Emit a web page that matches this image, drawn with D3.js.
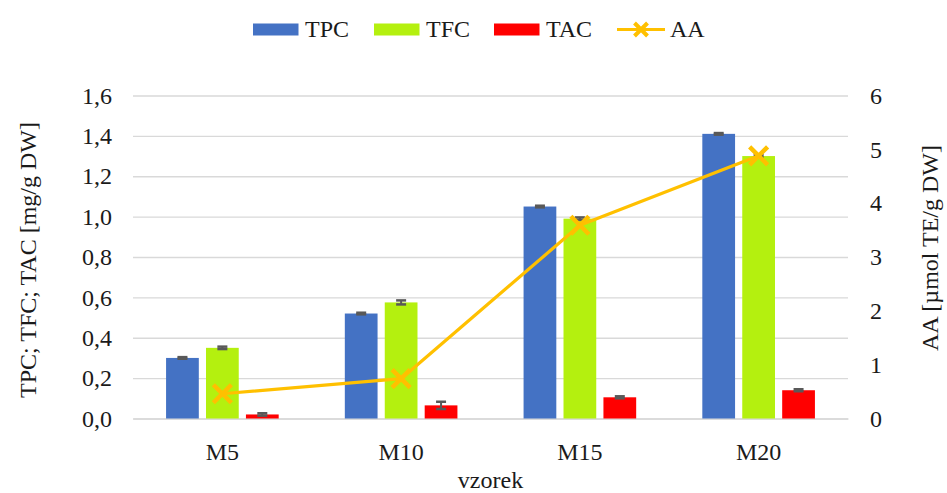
<!DOCTYPE html>
<html>
<head>
<meta charset="utf-8">
<script src="https://cdn.jsdelivr.net/npm/d3@7"></script>
<style>
  html, body { margin: 0; padding: 0; background: #fff; }
  svg { display: block; font-family: "Liberation Serif", "Times New Roman", serif; }
</style>
</head>
<body>
<svg id="chart" width="947" height="493"></svg>
<script>
// Samples and measured values
const categories = ["M5", "M10", "M15", "M20"];
const seriesNames = ["TPC", "TFC", "TAC"];
const tpc = [0.30, 0.52, 1.05, 1.41];
const tfc = [0.35, 0.575, 0.99, 1.30];
const tac = [0.02, 0.065, 0.105, 0.14];
const tpcErr = [0.004, 0.004, 0.004, 0.004];
const tfcErr = [0.006, 0.010, 0.006, 0.006];
const tacErr = [0.006, 0.018, 0.005, 0.005];
const aa = [0.46, 0.74, 3.59, 4.88];
const leftTicks = [0, 0.2, 0.4, 0.6, 0.8, 1.0, 1.2, 1.4, 1.6];
const rightTicks = [0, 1, 2, 3, 4, 5, 6];

const colors = { TPC: "#4472C4", TFC: "#B4F00F", TAC: "#FF0000", AA: "#FFC000" };
const barValues = { TPC: tpc, TFC: tfc, TAC: tac };
const barErrors = { TPC: tpcErr, TFC: tfcErr, TAC: tacErr };

const svg = d3.select("#chart");
const plot = { left: 133, right: 848, top: 95.5, bottom: 418.5 };
const fontSize = 24;
const textColor = "#1a1a1a";

const locale = d3.formatLocale({ decimal: ",", thousands: " ", grouping: [3], currency: ["", ""] });
const fmt1 = locale.format(".1f");

const x0 = d3.scaleBand().domain(categories).range([plot.left, plot.right])
  .paddingInner(0.37).paddingOuter(0.185);
const x1 = d3.scaleBand().domain(seriesNames).range([0, x0.bandwidth()])
  .paddingInner(0.18).paddingOuter(0);
const yL = d3.scaleLinear().domain([0, 1.6]).range([plot.bottom, plot.top]);
const yR = d3.scaleLinear().domain([0, 6]).range([plot.bottom, plot.top]);

// Gridlines and left axis
const gL = svg.append("g").attr("transform", `translate(${plot.left},0)`)
  .call(d3.axisLeft(yL).tickValues(leftTicks).tickFormat(fmt1)
    .tickSize(-(plot.right - plot.left)).tickPadding(21));
gL.select(".domain").remove();
gL.selectAll(".tick line").attr("stroke", "#d9d9d9").attr("stroke-width", 1.3);
gL.selectAll(".tick text").attr("font-size", fontSize).attr("fill", textColor)
  .attr("font-family", "Liberation Serif");

// Right axis (labels only)
const gR = svg.append("g").attr("transform", `translate(${plot.right},0)`)
  .call(d3.axisRight(yR).tickValues(rightTicks).tickFormat(d3.format("d"))
    .tickSize(0).tickPadding(22));
gR.select(".domain").remove();
gR.selectAll(".tick text").attr("font-size", fontSize).attr("fill", textColor)
  .attr("font-family", "Liberation Serif");

// Category axis
const gX = svg.append("g").attr("transform", `translate(0,${plot.bottom})`)
  .call(d3.axisBottom(x0).tickSize(0).tickPadding(24));
gX.select(".domain").attr("stroke", "#d9d9d9").attr("stroke-width", 1.5);
gX.selectAll(".tick text").attr("font-size", fontSize).attr("fill", textColor)
  .attr("font-family", "Liberation Serif");

// Bars
const groups = svg.append("g").selectAll("g").data(categories).join("g")
  .attr("transform", d => `translate(${x0(d)},0)`);
seriesNames.forEach(s => {
  groups.append("rect")
    .attr("x", x1(s))
    .attr("width", x1.bandwidth())
    .attr("y", (d, i) => yL(barValues[s][i]))
    .attr("height", (d, i) => plot.bottom - yL(barValues[s][i]))
    .attr("fill", colors[s]);
});

// Error bars
const cap = 5;
seriesNames.forEach(s => {
  groups.each(function (d, i) {
    const g = d3.select(this);
    const cx = x1(s) + x1.bandwidth() / 2;
    const v = barValues[s][i], e = barErrors[s][i];
    const yTop = yL(v + e), yBot = yL(v - e);
    g.append("line").attr("x1", cx).attr("x2", cx).attr("y1", yTop).attr("y2", yBot)
      .attr("stroke", "#595959").attr("stroke-width", 2);
    [yTop, yBot].forEach(yy => g.append("line")
      .attr("x1", cx - cap).attr("x2", cx + cap).attr("y1", yy).attr("y2", yy)
      .attr("stroke", "#595959").attr("stroke-width", 2.5));
  });
});

// AA line with cross markers
const cxOf = c => x0(c) + x0.bandwidth() / 2;
const line = d3.line().x((d, i) => cxOf(categories[i])).y(d => yR(d));
svg.append("path").datum(aa).attr("d", line)
  .attr("fill", "none").attr("stroke", colors.AA).attr("stroke-width", 3.2)
  .attr("stroke-linejoin", "round");
const m = 9;
svg.append("g").selectAll("path").data(aa).join("path")
  .attr("d", (d, i) => {
    const x = cxOf(categories[i]), y = yR(d);
    return `M${x - m},${y - m}L${x + m},${y + m}M${x - m},${y + m}L${x + m},${y - m}`;
  })
  .attr("stroke", colors.AA).attr("stroke-width", 4.5).attr("fill", "none");

// Axis titles
svg.append("text").attr("transform", "translate(36,260) rotate(-90)")
  .attr("text-anchor", "middle").attr("font-size", fontSize).attr("fill", textColor)
  .text("TPC; TFC; TAC [mg/g DW]");
svg.append("text").attr("transform", "translate(938,248) rotate(-90)")
  .attr("text-anchor", "middle").attr("font-size", fontSize).attr("fill", textColor)
  .text("AA [µmol TE/g DW]");
svg.append("text").attr("x", (plot.left + plot.right) / 2).attr("y", 487.5)
  .attr("text-anchor", "middle").attr("font-size", fontSize).attr("fill", textColor)
  .text("vzorek");

// Legend
const legendItems = [
  { name: "TPC", x: 253, type: "rect" },
  { name: "TFC", x: 374, type: "rect" },
  { name: "TAC", x: 494, type: "rect" },
  { name: "AA", x: 617, type: "line" }
];
const lg = svg.append("g");
legendItems.forEach(it => {
  if (it.type === "rect") {
    lg.append("rect").attr("x", it.x).attr("y", 23.5).attr("width", 45.5).attr("height", 12)
      .attr("fill", colors[it.name]);
  } else {
    lg.append("line").attr("x1", it.x).attr("x2", it.x + 48).attr("y1", 29.5).attr("y2", 29.5)
      .attr("stroke", colors.AA).attr("stroke-width", 3.2);
    const cx = it.x + 24, cy = 29.5, r = 6.5;
    lg.append("path")
      .attr("d", `M${cx - r},${cy - r}L${cx + r},${cy + r}M${cx - r},${cy + r}L${cx + r},${cy - r}`)
      .attr("stroke", colors.AA).attr("stroke-width", 4).attr("fill", "none");
  }
  lg.append("text").attr("x", it.x + (it.type === "rect" ? 52 : 53)).attr("y", 36.5)
    .attr("font-size", fontSize).attr("fill", textColor).text(it.name);
});
</script>
</body>
</html>
